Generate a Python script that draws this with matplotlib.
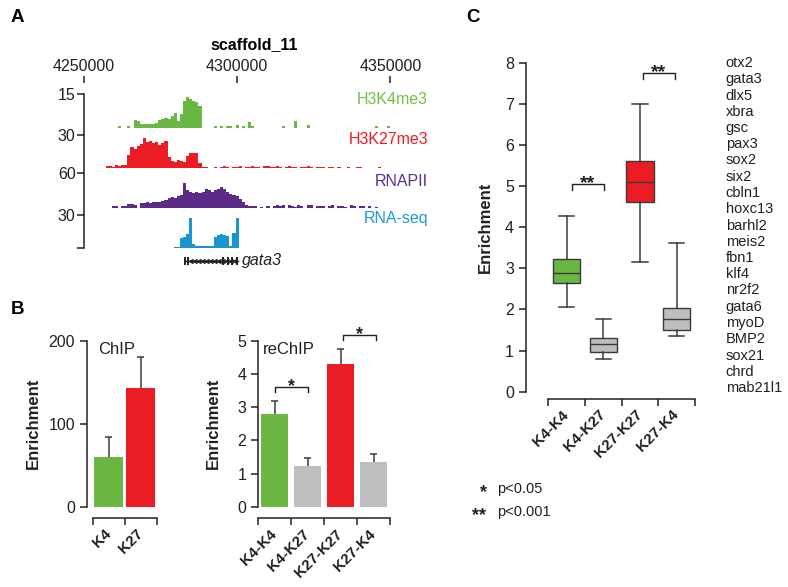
import numpy as np
import matplotlib
matplotlib.use('Agg')
import matplotlib.pyplot as plt

plt.rcParams['font.family'] = ['Liberation Sans', 'DejaVu Sans']
plt.rcParams['axes.linewidth'] = 1.1

W, H = 788, 587
fig = plt.figure(figsize=(W / 100, H / 100), dpi=100)

INK = '#231f20'
GREEN = '#6ab843'
RED = '#ec1c24'
GRAY = '#bcbec0'
PURPLE = '#5b2c87'
BLUE = '#1a95cf'


def rect(l, t, r, b):
    return [l / W, 1 - b / H, (r - l) / W, (b - t) / H]


def ftext(x, y, s, **kw):
    return fig.text(x / W, 1 - y / H, s, **kw)


# ---------------- data: panel A (genome tracks, 1 kb bins) ----------------
track_start = 4255000
track_bin = 1000
h3k4me3 = [0, 0, 0, 0, 0, 0, 0, 0.8, 0, 0,
           0.8, 0, 3.5, 3.0, 1.8, 1.6, 1.8, 1.7, 1.9, 2.0,
           3.5, 4.0, 4.2, 3.8, 5.5, 6.5, 3.0, 6.0, 12.0, 13.8,
           13.0, 12.0, 11.5, 9.5, 0, 0, 0, 0, 0.9, 0,
           1.0, 0, 1.0, 1.1, 0, 1.2, 0, 1.0, 0, 2.5,
           1.0, 0, 0, 0, 0, 0, 0, 0, 0, 0,
           1.0, 0, 0, 0, 3.2, 0, 0, 0, 1.2, 0,
           0, 0, 0, 0, 0, 0, 0, 0, 0, 0,
           0, 0, 0, 0, 0, 0, 0, 0, 0, 0,
           0.8, 0, 0, 0, 0.8]
h3k27me3 = [0, 0, 0, 1.5, 1.5, 0.5, 2.5, 2.0, 2.5, 3.0,
            12, 19, 17, 20, 22, 27, 24, 25, 23, 24,
            21, 23, 25, 10, 6, 5.5, 7, 6, 5.5, 11,
            14, 13.5, 14, 5, 0.5, 0.8, 0, 0, 1.0, 0,
            1.2, 1.5, 1.0, 0, 1.2, 1.0, 1.5, 0, 1.0, 1.3,
            1.5, 1.0, 1.2, 0, 1.5, 1.8, 1.2, 1.0, 1.5, 1.2,
            0, 1.0, 1.5, 1.2, 1.0, 0, 1.2, 1.0, 1.5, 1.0,
            0, 1.2, 1.0, 1.0, 0, 1.2, 1.0, 0, 1.0, 0,
            0, 1.0, 0, 0, 1.0, 1.0, 0, 0, 0, 0,
            0, 1.0, 0, 0, 0]
rnapii = [0, 0, 0, 0, 0, 4, 3, 0, 4, 3,
          7, 7, 6, 0, 8, 9, 10, 9, 10, 11,
          11, 12, 14, 17, 19, 18, 20, 22, 43, 30,
          27, 26, 28, 25, 28, 32, 30, 28, 31, 33,
          36, 32, 27, 24, 22, 20, 15, 10, 6, 4,
          3.5, 3.5, 0, 2.5, 0, 3, 0, 4, 5, 3,
          5, 0, 5, 4, 2, 6, 4, 0, 5, 6,
          0, 3, 4, 3, 0, 4, 5, 0, 3, 4,
          2, 0, 5, 3, 0, 4, 3, 0, 4, 0,
          2, 0, 0, 0, 0]
rnaseq = [0] * 20 + [0, 0.4, 0, 0.4, 0, 0.5, 0.6, 9, 10, 13,
                     27, 4, 2, 1.5, 1.5, 1.5, 1.5, 1.5, 10, 12,
                     12.5, 12, 11, 2, 14, 27, 0, 0, 0, 0] + [0] * 45
track_names = ['H3K4me3', 'H3K27me3', 'RNAPII', 'RNA-seq']
track_max = [15, 30, 60, 30]
scale_ticks = [4250000, 4300000, 4350000]
gene_name = 'gata3'
gene_start, gene_end = 4283700, 4300700
gene_exons = [4283700, 4284700, 4295900, 4297500, 4298800, 4300400]

# ---------------- data: panel B ----------------
chip_labels = ['K4', 'K27']
chip_vals = [59.5, 143]
chip_err = [25, 38]
rechip_labels = ['K4-K4', 'K4-K27', 'K27-K27', 'K27-K4']
rechip_vals = [2.8, 1.23, 4.31, 1.34]
rechip_err = [0.40, 0.25, 0.45, 0.25]

# ---------------- data: panel C ----------------
box_labels = ['K4-K4', 'K4-K27', 'K27-K27', 'K27-K4']
box_whislo = [2.07, 0.80, 3.15, 1.36]
box_q1 = [2.64, 0.97, 4.62, 1.50]
box_med = [2.89, 1.15, 5.10, 1.77]
box_q3 = [3.23, 1.31, 5.61, 2.03]
box_whishi = [4.28, 1.77, 7.00, 3.61]
genes = ['otx2', 'gata3', 'dlx5', 'xbra', 'gsc', 'pax3', 'sox2', 'six2',
         'cbln1', 'hoxc13', 'barhl2', 'meis2', 'fbn1', 'klf4', 'nr2f2',
         'gata6', 'myoD', 'BMP2', 'sox21', 'chrd', 'mab21l1']

FS = 11.5

# ======================= Panel A =======================
bp_per_px = 323.6
XL = (4250000 + 3 * bp_per_px, 4250000 + 349 * bp_per_px)
edges = track_start + track_bin * np.arange(len(h3k4me3) + 1)

track_vals = [h3k4me3, h3k27me3, rnapii, rnaseq]
track_cols = [GREEN, RED, PURPLE, BLUE]
label_cols = ['#72bf44', RED, '#5c2d91', '#1b9ad6']
geom = [(94, 128, 135), (135, 168, 173), (173, 208, 215), (215, 248, 248)]
label_y = [100, 139, 182, 219]

for i in range(4):
    top, base, bot = geom[i]
    ax = fig.add_axes(rect(84, top, 430, bot))
    ppu = (base - top) / track_max[i]
    ylo = -(bot - base) / ppu
    ax.set_ylim(ylo, track_max[i])
    ax.set_xlim(*XL)
    ax.stairs(track_vals[i], edges, fill=True, color=track_cols[i], lw=0)
    for s in ['top', 'right', 'bottom']:
        ax.spines[s].set_visible(False)
    ax.spines['left'].set_color(INK)
    ax.set_xticks([])
    if i == 3:
        ax.set_yticks([0, track_max[i]])
        ax.set_yticklabels(['', str(track_max[i])])
    else:
        ax.set_yticks([track_max[i]])
        ax.set_yticklabels([str(track_max[i])])
    ax.tick_params(axis='y', length=5, width=1.1, color=INK, labelsize=FS,
                   labelcolor=INK, pad=1)
    ftext(428, label_y[i], track_names[i], ha='right', va='center',
          color=label_cols[i], size=FS)

# genome scale
axs = fig.add_axes(rect(84, 83, 430, 83.5))
axs.set_xlim(*XL)
axs.set_ylim(0, 1)
for s in axs.spines.values():
    s.set_visible(False)
axs.set_yticks([])
axs.xaxis.tick_top()
axs.set_xticks(scale_ticks)
axs.set_xticklabels([str(t) for t in scale_ticks])
axs.tick_params(axis='x', length=5, width=1.1, color=INK, labelsize=FS,
                labelcolor=INK, pad=1.5)
ftext(254, 45, 'scaffold_11', ha='center', va='center', weight='bold', size=FS)

# gene model
axg = fig.add_axes(rect(84, 252, 430, 270))
axg.set_xlim(*XL)
axg.set_ylim(0, 1)
axg.axis('off')
axg.plot([gene_start, gene_end], [0.5, 0.5], color=INK, lw=1.0)
axg.vlines(gene_exons, 0.3, 0.7, color=INK, lw=1.4)
chev = np.arange(gene_start + 1200, gene_end - 300, 1300)
axg.plot(chev, np.full(len(chev), 0.5), ls='none', marker=4, ms=3.5,
         color=INK)
axg.text(gene_end + 1300, 0.5, gene_name, style='italic', size=FS,
         ha='left', va='center', color=INK)

ftext(17, 18, 'A', weight='bold', size=13.5, ha='center', va='center')
ftext(17, 310, 'B', weight='bold', size=13.5, ha='center', va='center')
ftext(473, 17, 'C', weight='bold', size=13.5, ha='center', va='center')


def style_cat_axis(ax, n, labels, offset):
    for s in ['top', 'right']:
        ax.spines[s].set_visible(False)
    ax.spines['bottom'].set_position(('outward', offset))
    ax.spines['bottom'].set_bounds(-0.5, n - 0.5)
    ax.spines['bottom'].set_color(INK)
    ax.spines['left'].set_color(INK)
    ax.set_xticks(range(n))
    ax.set_xticklabels(labels, rotation=45, ha='right', va='center',
                       rotation_mode='anchor', weight='bold', size=11)
    ax.set_xticks(np.arange(n + 1) - 0.5, minor=True)
    ax.tick_params(axis='x', which='major', length=0, pad=10, labelcolor=INK)
    ax.tick_params(axis='x', which='minor', length=5, width=1.1, color=INK)
    ax.tick_params(axis='y', length=5, width=1.1, color=INK, labelsize=FS,
                   labelcolor=INK)


def upper_err(ax, x, vals, errs, half):
    x = np.asarray(x, dtype=float)
    v = np.asarray(vals, dtype=float)
    e = np.asarray(errs, dtype=float)
    ax.vlines(x, v, v + e, color='#3a3a3a', lw=1.1, zorder=3)
    ax.hlines(v + e, x - half, x + half, color='#3a3a3a', lw=1.1, zorder=3)


def sig(ax, x0, x1, y, arm, txt, ty, size):
    ax.plot([x0, x0, x1, x1], [y - arm, y, y, y - arm], color=INK, lw=1.0,
            clip_on=False)
    ax.annotate(txt, xy=((x0 + x1) / 2, ty), xytext=(0, -7),
                textcoords='offset points', ha='center', va='baseline',
                size=size, weight='bold', color=INK, annotation_clip=False)


# ======================= Panel B: ChIP =======================
axb1 = fig.add_axes(rect(87, 341, 157, 506.7))
xb1 = np.arange(len(chip_vals))
axb1.bar(xb1, chip_vals, width=0.9, color=[GREEN, RED])
upper_err(axb1, xb1, chip_vals, chip_err, 0.11)
axb1.set_xlim(-0.68, 1.51)
axb1.set_ylim(0, 200)
axb1.set_yticks([0, 100, 200])
style_cat_axis(axb1, 2, chip_labels, 8)
axb1.spines['left'].set_bounds(0, 200)
ftext(98, 349, 'ChIP', ha='left', va='center', size=12, color=INK)
ftext(33, 423, 'Enrichment', rotation=90, ha='center', va='center',
      weight='bold', size=12, color=INK)

# ======================= Panel B: reChIP =======================
axb2 = fig.add_axes(rect(258, 341, 390, 506.7))
xb2 = np.arange(len(rechip_vals))
axb2.bar(xb2, rechip_vals, width=0.82, color=[GREEN, GRAY, RED, GRAY])
upper_err(axb2, xb2, rechip_vals, rechip_err, 0.1)
axb2.set_xlim(-0.5, 3.5)
axb2.set_ylim(0, 5)
axb2.set_yticks(range(6))
style_cat_axis(axb2, 4, rechip_labels, 8)
sig(axb2, 0, 1, 3.62, 0.15, '*', 3.78, 13)
sig(axb2, 2.07, 3.07, 5.19, 0.15, '*', 5.36, 13)
ftext(263, 350, 'reChIP', ha='left', va='center', size=12, color=INK)
ftext(213, 423, 'Enrichment', rotation=90, ha='center', va='center',
      weight='bold', size=12, color=INK)

# ======================= Panel C =======================
axc = fig.add_axes(rect(525.7, 62.7, 695, 391.7))
stats = []
for i in range(len(box_labels)):
    stats.append(dict(whislo=box_whislo[i], q1=box_q1[i], med=box_med[i],
                      q3=box_q3[i], whishi=box_whishi[i], label=box_labels[i]))
bp = axc.bxp(stats, positions=range(len(stats)), widths=0.75,
             patch_artist=True, showfliers=False, capwidths=0.42,
             boxprops=dict(edgecolor='#3a3a3a', linewidth=1.0),
             whiskerprops=dict(color='#3a3a3a', linewidth=1.1),
             capprops=dict(color='#3a3a3a', linewidth=1.1),
             medianprops=dict(color='#3a3a3a', linewidth=1.0))
for patch, c in zip(bp['boxes'], [GREEN, GRAY, RED, GRAY]):
    patch.set_facecolor(c)
axc.set_xlim(-1.116, 3.5)
axc.set_ylim(0, 8)
axc.set_yticks(range(9))
style_cat_axis(axc, 4, box_labels, 5)
axc.spines['left'].set_bounds(0, 8)
sig(axc, 0.14, 1.02, 5.05, 0.14, '**', 5.18, 14)
sig(axc, 2.07, 2.95, 7.75, 0.14, '**', 7.88, 14)
ftext(485, 227, 'Enrichment', rotation=90, ha='center', va='center',
      weight='bold', size=12, color=INK)

for i, g in enumerate(genes):
    ftext(725.7, 63 + i * 16.25, g, ha='left', va='center', size=10.5,
          color=INK)

# significance legend
ftext(483, 493, '*', ha='center', va='center', size=13, weight='bold',
      color=INK)
ftext(497, 489, 'p<0.05', ha='left', va='center', size=10.5, color=INK)
ftext(479, 516, '**', ha='center', va='center', size=13, weight='bold',
      color=INK)
ftext(497, 512, 'p<0.001', ha='left', va='center', size=10.5, color=INK)

fig.savefig('out.png', dpi=100)
